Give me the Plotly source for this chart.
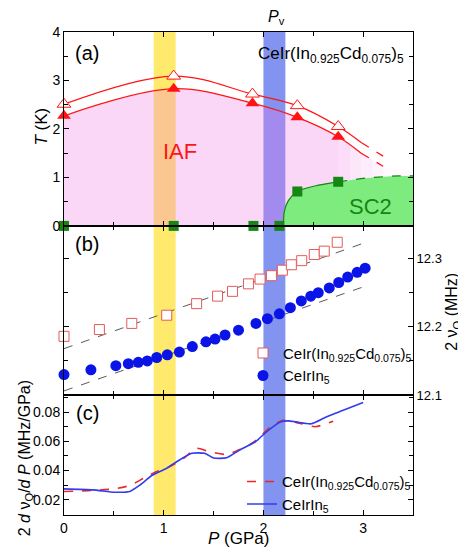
import plotly.graph_objects as go

# ---------------- data ----------------
# panel (a): phase diagram
P_tri = [0.0, 1.10, 1.89, 2.34, 2.75]
T_open = [2.51, 3.09, 2.72, 2.48, 2.05]
T_fill = [2.27, 2.83, 2.53, 2.24, 1.84]
# line continuation (solid to 2.98, dashed to 3.2)
P_line_end = [2.75, 2.98]
T_open_end = [2.05, 1.72]
T_fill_end = [1.84, 1.50]
P_dash = [2.98, 3.20]
T_open_dash = [1.72, 1.44]
T_fill_dash = [1.50, 1.23]
# fading edge of the IAF region beyond the solid line
P_fade = [2.75, 2.87, 2.98, 3.09, 3.20, 3.50]
T_fade = [1.84, 1.67, 1.50, 1.37, 1.23, 1.10]
fade_alpha = [0.25, 0.19, 0.14, 0.09, 0.04]

P_sq = [0.0, 1.10, 1.90, 2.16, 2.34, 2.75]
T_sq = [0.0, 0.0, 0.0, 0.0, 0.71, 0.91]
P_sc = [2.20, 2.21, 2.25, 2.34, 2.55, 2.75]
T_sc = [0.0, 0.30, 0.52, 0.71, 0.84, 0.91]
P_sc_dash = [2.75, 3.05, 3.35, 3.50]
T_sc_dash = [0.91, 0.99, 1.03, 1.03]

# panel (b): 2 nu_Q
P_cd = [0.0, 0.355, 0.68, 1.03, 1.33, 1.54, 1.69, 1.85, 1.966, 2.08, 2.19, 2.28, 2.384, 2.51, 2.61, 2.74]
nu_cd = [12.186, 12.196, 12.205, 12.217, 12.234, 12.245, 12.252, 12.263, 12.270, 12.275,
         12.283, 12.291, 12.297, 12.306, 12.311, 12.324]
P_in = [0.0, 0.27, 0.52, 0.645, 0.745, 0.835, 0.93, 1.036, 1.157, 1.287, 1.424, 1.515, 1.615,
        1.75, 1.925, 2.04, 2.16, 2.27, 2.38, 2.475, 2.55, 2.66, 2.755, 2.845, 2.94, 3.02]
nu_in = [12.130, 12.137, 12.143, 12.146, 12.148, 12.150, 12.155, 12.159, 12.163, 12.171, 12.178,
         12.182, 12.188, 12.195, 12.205, 12.212, 12.219, 12.228, 12.238, 12.245, 12.250, 12.257,
         12.265, 12.273, 12.280, 12.286]
P_fit = [0.0, 3.05]
nu_fit_cd = [12.168, 12.325]
nu_fit_in = [12.106, 12.261]

# panel (c): derivative
P_c_in = [0.0, 0.29, 0.51, 0.66, 0.76, 0.88, 1.03, 1.13, 1.28, 1.41, 1.50, 1.63, 1.76, 1.92,
          2.03, 2.17, 2.25, 2.33, 2.48, 2.63, 2.80, 3.00]
d_in = [0.0275, 0.0268, 0.0252, 0.0257, 0.0300, 0.0366, 0.0416, 0.0460, 0.0518, 0.0518, 0.0486,
        0.0487, 0.0540, 0.0597, 0.0665, 0.0733, 0.0740, 0.0733, 0.0720, 0.0767, 0.0812, 0.0865]
P_c_cd = [0.0, 0.29, 0.51, 0.66, 0.80, 0.93, 1.06, 1.20, 1.33, 1.46, 1.63, 1.75, 1.83, 1.95,
          2.07, 2.20, 2.37, 2.52, 2.70]
d_cd = [0.0257, 0.0264, 0.0275, 0.0298, 0.0348, 0.0393, 0.0427, 0.0484, 0.0552, 0.0529, 0.0510,
        0.0540, 0.0563, 0.0620, 0.0700, 0.0744, 0.0722, 0.0700, 0.0737]

band_yellow = [0.90, 1.12]
band_blue = [2.00, 2.22]

name_cd = "CeIr(In<sub>0.925</sub>Cd<sub>0.075</sub>)<sub>5</sub>"
name_in = "CeIrIn<sub>5</sub>"

# ---------------- geometry helpers ----------------
# the page body has an 8 px margin, so the figure is drawn 8 px in from the top-left
OFF = 8
W, H = 466 - OFF, 548 - OFF
L, R, TOP, BOT = 64, 413, 32, 517          # plot-area edges in window pixels
def px(x):
    return (x - L) / (R - L)
def py(y):
    return (BOT - y) / (BOT - TOP)

FONT = "Liberation Sans, Arial, sans-serif"
RED = "rgb(255,20,20)"
GREEN_D = "rgb(20,135,20)"
GREEN_F = "rgb(125,235,125)"
PINK = "rgba(240,120,230,0.30)"

fig = go.Figure()

# IAF pink region
fig.add_trace(go.Scatter(x=P_tri, y=T_fill, mode="lines", line=dict(width=0, shape="spline"),
                         fill="tozeroy", fillcolor=PINK, xaxis="x", yaxis="y",
                         showlegend=False, hoverinfo="skip"))
for i in range(len(fade_alpha)):
    fig.add_trace(go.Scatter(x=P_fade[i:i + 2], y=T_fade[i:i + 2], mode="lines", line=dict(width=0),
                             fill="tozeroy", fillcolor="rgba(240,120,230,%.2f)" % fade_alpha[i],
                             xaxis="x", yaxis="y", showlegend=False, hoverinfo="skip"))
# SC2 green region
fig.add_trace(go.Scatter(x=P_sc + P_sc_dash[1:], y=T_sc + T_sc_dash[1:], mode="lines",
                         line=dict(width=0, shape="spline", smoothing=0.8),
                         fill="tozeroy", fillcolor=GREEN_F, xaxis="x", yaxis="y",
                         showlegend=False, hoverinfo="skip"))
fig.add_trace(go.Scatter(x=P_sc, y=T_sc, mode="lines", line=dict(color=GREEN_D, width=1.2, shape="spline", smoothing=0.8),
                         xaxis="x", yaxis="y", showlegend=False))
fig.add_trace(go.Scatter(x=P_sc_dash, y=T_sc_dash, mode="lines",
                         line=dict(color=GREEN_D, width=1.2, dash="dash", shape="spline"),
                         xaxis="x", yaxis="y", showlegend=False))
# red lines
for Ts, Te, Td in [(T_open, T_open_end, T_open_dash), (T_fill, T_fill_end, T_fill_dash)]:
    fig.add_trace(go.Scatter(x=P_tri + P_line_end[1:], y=Ts + Te[1:], mode="lines",
                             line=dict(color=RED, width=1.3, shape="spline"),
                             xaxis="x", yaxis="y", showlegend=False))
    fig.add_trace(go.Scatter(x=P_dash, y=Td, mode="lines", line=dict(color=RED, width=1.3, dash="dash"),
                             xaxis="x", yaxis="y", showlegend=False))
fig.add_trace(go.Scatter(x=P_tri, y=T_open, mode="markers",
                         marker=dict(symbol="triangle-up", size=12, color="white", line=dict(width=1, color=RED)),
                         xaxis="x", yaxis="y", showlegend=False, cliponaxis=False))
fig.add_trace(go.Scatter(x=P_tri, y=T_fill, mode="markers",
                         marker=dict(symbol="triangle-up", size=12, color=RED),
                         xaxis="x", yaxis="y", showlegend=False, cliponaxis=False))
fig.add_trace(go.Scatter(x=P_sq, y=T_sq, mode="markers",
                         marker=dict(symbol="square", size=10, color=GREEN_D),
                         xaxis="x", yaxis="y", showlegend=False, cliponaxis=False))

# panel (b)
for nus in [nu_fit_cd, nu_fit_in]:
    fig.add_trace(go.Scatter(x=P_fit, y=nus, mode="lines", line=dict(color="rgb(90,90,90)", width=1, dash="dash"),
                             xaxis="x2", yaxis="y2", showlegend=False))
fig.add_trace(go.Scatter(x=P_cd, y=nu_cd, mode="markers", name=name_cd,
                         marker=dict(symbol="square", size=10, color="white",
                                     line=dict(width=1, color="rgb(230,90,90)")),
                         xaxis="x2", yaxis="y2", legend="legend", cliponaxis=False))
fig.add_trace(go.Scatter(x=P_in, y=nu_in, mode="markers", name=name_in,
                         marker=dict(symbol="circle", size=11, color="rgb(10,20,230)"),
                         xaxis="x2", yaxis="y2", legend="legend", cliponaxis=False))

# panel (c)
fig.add_trace(go.Scatter(x=P_c_cd, y=d_cd, mode="lines", name=name_cd,
                         line=dict(color="rgb(235,40,40)", width=1.6, dash="dash", shape="spline", smoothing=0.6),
                         xaxis="x3", yaxis="y3", legend="legend2"))
fig.add_trace(go.Scatter(x=P_c_in, y=d_in, mode="lines", name=name_in,
                         line=dict(color="rgb(50,60,235)", width=1.6, shape="spline", smoothing=0.6),
                         xaxis="x3", yaxis="y3", legend="legend2"))

# bands
fig.add_shape(type="rect", xref="x", yref="paper", x0=band_yellow[0], x1=band_yellow[1], y0=0, y1=1,
              fillcolor="rgb(255,234,110)", line=dict(width=0), layer="below")
fig.add_shape(type="rect", xref="x", yref="paper", x0=band_blue[0], x1=band_blue[1], y0=0, y1=1,
              fillcolor="rgb(130,148,240)", line=dict(width=0), layer="below")

axis_common = dict(showline=True, linecolor="black", linewidth=1, mirror="ticks", ticks="inside",
                   tickcolor="black", ticklen=5, showgrid=False, zeroline=False,
                   tickfont=dict(family=FONT, size=14, color="black"))
xcommon = dict(axis_common, range=[0, 3.5], dtick=1, tick0=0,
               minor=dict(dtick=0.5, ticks="inside", ticklen=4, tickcolor="black", showgrid=False))
dA = py(226.7)
dB = py(396.5)
fig.update_layout(
    width=W, height=H,
    margin=dict(l=L - OFF, r=W - (R - OFF), t=TOP - OFF, b=H - (BOT - OFF)),
    paper_bgcolor="white", plot_bgcolor="rgba(0,0,0,0)",
    font=dict(family=FONT, color="black"),
    xaxis=dict(xcommon, domain=[0, 1], anchor="y", showticklabels=False),
    xaxis2=dict(xcommon, domain=[0, 1], anchor="y2", showticklabels=False),
    xaxis3=dict(xcommon, domain=[0, 1], anchor="y3", showticklabels=True),
    yaxis=dict(axis_common, domain=[dA, 1], anchor="x", range=[0, 4], dtick=1,
               minor=dict(dtick=0.5, ticks="inside", ticklen=4, tickcolor="black", showgrid=False)),
    yaxis2=dict(axis_common, domain=[dB, dA], anchor="x2", side="right", range=[12.1, 12.348],
                tickvals=[12.1, 12.2, 12.3], ticktext=["12.1", "12.2", "12.3"],
                tickfont=dict(family=FONT, size=13, color="black"),
                minor=dict(dtick=0.05, tick0=12.1, ticks="inside", ticklen=4, tickcolor="black", showgrid=False)),
    yaxis3=dict(axis_common, domain=[0, dB], anchor="x3", range=[0.0096, 0.0917], dtick=0.02, tick0=0,
                tickformat=".2f",
                minor=dict(dtick=0.01, tick0=0, ticks="inside", ticklen=4, tickcolor="black", showgrid=False)),
    legend=dict(x=px(243), y=py(338), xanchor="left", yanchor="top", bgcolor="rgba(0,0,0,0)",
                font=dict(family=FONT, size=15, color="black"), tracegroupgap=0),
    legend2=dict(x=px(242), y=py(467), xanchor="left", yanchor="top", bgcolor="rgba(0,0,0,0)",
                 font=dict(family=FONT, size=15, color="black"), tracegroupgap=0),
)

def ann(text, x, y, size, color="black", angle=0, xanchor="center"):
    fig.add_annotation(text=text, x=px(x), y=py(y), xref="paper", yref="paper", showarrow=False,
                       xanchor=xanchor, yanchor="middle", textangle=angle,
                       font=dict(family=FONT, size=size, color=color))

ann("(a)", 87, 53, 20)
ann("(b)", 87, 245, 20)
ann("(c)", 87, 415, 20)
ann("IAF", 180, 152, 22, RED)
ann("SC2", 370, 207, 22, GREEN_D)
ann(name_cd, 331, 55, 17)
ann("<i>P</i><sub>v</sub>", 276, 17, 16)
ann("<i>T</i> (K)", 42, 127, 17, angle=-90)
ann("2 ν<sub>Q</sub> (MHz)", 453, 313, 16, angle=-90)
ann("2 <i>d</i> ν<sub>Q</sub>/<i>d P</i> (MHz/GPa)", 25, 460, 16, angle=-90)
ann("<i>P</i> (GPa)", 238, 541, 17)

fig.write_html("out.html")
